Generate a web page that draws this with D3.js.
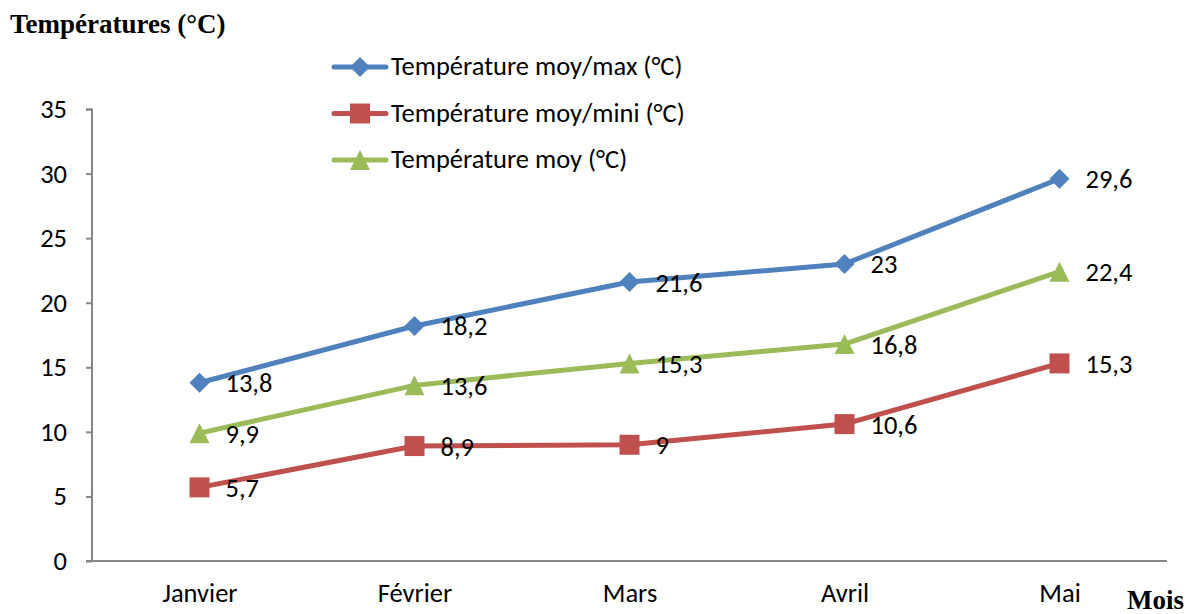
<!DOCTYPE html>
<html><head><meta charset="utf-8">
<script src="https://cdn.jsdelivr.net/npm/d3@7/dist/d3.min.js"></script>
<style>body{margin:0;background:#fff}svg{display:block}</style>
</head><body>
<svg id="c" width="1190" height="614"></svg>
<script>
const months = ["Janvier","Février","Mars","Avril","Mai"];
const tmax = [13.8, 18.2, 21.6, 23, 29.6];
const tmin = [5.7, 8.9, 9, 10.6, 15.3];
const tmoy = [9.9, 13.6, 15.3, 16.8, 22.4];
const seriesNames = ["Température moy/max (°C)","Température moy/mini (°C)","Température moy (°C)"];
const yTicks = [0,5,10,15,20,25,30,35];

const series = [
  {name: seriesNames[0], values: tmax, color: "#4F81BD", sym: "diamond"},
  {name: seriesNames[1], values: tmin, color: "#C0504D", sym: "square"},
  {name: seriesNames[2], values: tmoy, color: "#9BBB59", sym: "triangle"}
];
const font = "Calibri, Carlito, 'Open Sans', sans-serif";
const fs = 26.5;
const svg = d3.select("#c");
const x = d3.scalePoint().domain(months).range([92, 1167]).padding(0.5);
const y = d3.scaleLinear().domain([0,35]).range([561,109]);

const yAxis = d3.axisLeft(y).tickValues(yTicks).tickSize(6).tickPadding(19).tickFormat(d3.format("d"));
const gy = svg.append("g").attr("transform","translate(92,0)").call(yAxis);
gy.select(".domain").attr("stroke","#868686").attr("stroke-width",2).attr("d","M-6,109.5H0V561");
gy.selectAll(".tick line").attr("stroke","#868686").attr("stroke-width",2);
gy.selectAll(".tick text").attr("font-family",font).attr("font-size",fs).attr("fill","#000");

const xAxis = d3.axisBottom(x).tickSize(0).tickPadding(22);
const gx = svg.append("g").attr("transform","translate(0,561)").call(xAxis);
gx.select(".domain").attr("stroke","#868686").attr("stroke-width",2).attr("d","M86,0H1167");
gx.selectAll(".tick text").attr("font-family",font).attr("font-size",fs).attr("fill","#000");

const symPath = {
  diamond: "M0,-10L10,0L0,10L-10,0Z",
  square: "M-10,-10H10V10H-10Z",
  triangle: "M0,-10L10,10H-10Z"
};
const line = d3.line().x((d,i)=>x(months[i])).y(d=>y(d));

series.forEach(s=>{
  svg.append("path").attr("d", line(s.values)).attr("fill","none")
    .attr("stroke", s.color).attr("stroke-width",5).attr("stroke-linejoin","round").attr("stroke-linecap","round");
  svg.selectAll(null).data(s.values).enter().append("path")
    .attr("d", symPath[s.sym])
    .attr("transform",(d,i)=>`translate(${x(months[i])},${y(d)})`)
    .attr("fill", s.color);
  svg.selectAll(null).data(s.values).enter().append("text")
    .attr("x",(d,i)=>x(months[i])+26).attr("y",d=>y(d)+9.5)
    .attr("font-family",font).attr("font-size",fs).attr("fill","#000")
    .text(d=>String(d).replace(".",","));
});

// legend
series.forEach((s,i)=>{
  const ly = 67 + i*46.5;
  const g = svg.append("g");
  g.append("line").attr("x1",334).attr("x2",386).attr("y1",ly).attr("y2",ly)
    .attr("stroke",s.color).attr("stroke-width",5).attr("stroke-linecap","round");
  g.append("path").attr("d", symPath[s.sym])
    .attr("transform",`translate(360,${ly})`).attr("fill",s.color);
  g.append("text").attr("x",391).attr("y",ly+8).attr("font-family",font).attr("font-size",fs)
    .attr("fill","#000").text(s.name);
});

svg.append("text").attr("x",10).attr("y",33).attr("font-family","'Liberation Serif','Times New Roman',serif")
  .attr("font-weight","bold").attr("font-size",27).text("Températures (°C)");
svg.append("text").attr("x",1127).attr("y",609).attr("font-family","'Liberation Serif','Times New Roman',serif")
  .attr("font-weight","bold").attr("font-size",27).text("Mois");
</script>
</body></html>
